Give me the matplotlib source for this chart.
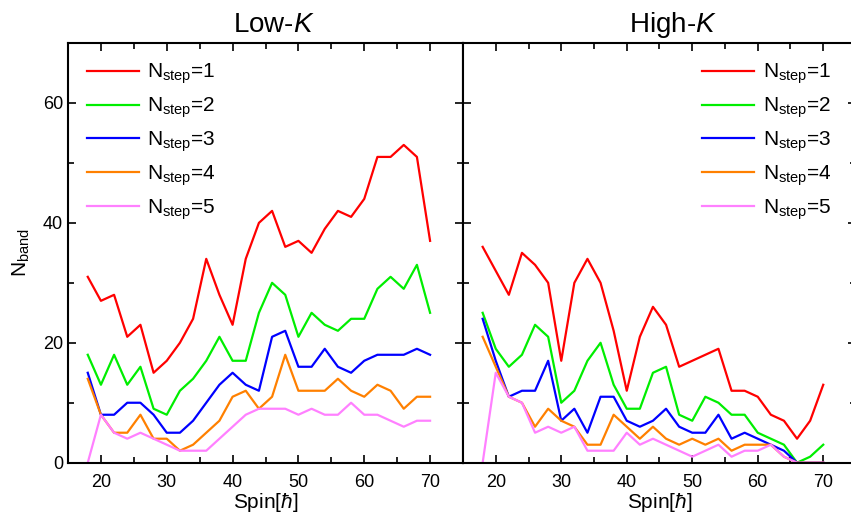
import matplotlib
matplotlib.use("Agg")
import matplotlib.pyplot as plt
from matplotlib.ticker import MultipleLocator

plt.rcParams['font.family'] = ['Liberation Sans', 'DejaVu Sans']
plt.rcParams['mathtext.fontset'] = 'custom'
plt.rcParams['mathtext.rm'] = 'Liberation Sans'
plt.rcParams['mathtext.it'] = 'Liberation Sans:italic'

# spin values (hbar)
spin = [18, 20, 22, 24, 26, 28, 30, 32, 34, 36, 38, 40, 42, 44,
        46, 48, 50, 52, 54, 56, 58, 60, 62, 64, 66, 68, 70]

# Low-K panel
low_1 = [31, 27, 28, 21, 23, 15, 17, 20, 24, 34, 28, 23, 34, 40, 42, 36, 37, 35, 39, 42, 41, 44, 51, 51, 53, 51, 37]
low_2 = [18, 13, 18, 13, 16, 9, 8, 12, 14, 17, 21, 17, 17, 25, 30, 28, 21, 25, 23, 22, 24, 24, 29, 31, 29, 33, 25]
low_3 = [15, 8, 8, 10, 10, 8, 5, 5, 7, 10, 13, 15, 13, 12, 21, 22, 16, 16, 19, 16, 15, 17, 18, 18, 18, 19, 18]
low_4 = [14, 8, 5, 5, 8, 4, 4, 2, 3, 5, 7, 11, 12, 9, 11, 18, 12, 12, 12, 14, 12, 11, 13, 12, 9, 11, 11]
low_5 = [0, 8, 5, 4, 5, 4, 3, 2, 2, 2, 4, 6, 8, 9, 9, 9, 8, 9, 8, 8, 10, 8, 8, 7, 6, 7, 7]

# High-K panel
high_1 = [36, 32, 28, 35, 33, 30, 17, 30, 34, 30, 22, 12, 21, 26, 23, 16, 17, 18, 19, 12, 12, 11, 8, 7, 4, 7, 13]
high_2 = [25, 19, 16, 18, 23, 21, 10, 12, 17, 20, 13, 9, 9, 15, 16, 8, 7, 11, 10, 8, 8, 5, 4, 3, 0, 1, 3]
high_3 = [24, 17, 11, 12, 12, 17, 7, 9, 5, 11, 11, 7, 6, 7, 9, 6, 5, 5, 8, 4, 5, 4, 3, 2, 0, 0, 0]
high_4 = [21, 16, 11, 10, 6, 9, 7, 6, 3, 3, 8, 6, 4, 6, 4, 3, 4, 3, 4, 2, 3, 3, 3, 1, 0, 0, 0]
high_5 = [0, 15, 11, 10, 5, 6, 5, 6, 2, 2, 2, 5, 3, 4, 3, 2, 1, 2, 3, 1, 2, 2, 3, 1, 0, 0, 0]

labels = [r'N$_{\rm step}$=1', r'N$_{\rm step}$=2', r'N$_{\rm step}$=3',
          r'N$_{\rm step}$=4', r'N$_{\rm step}$=5']
colors = ['#ff0000', '#00ee00', '#0000ff', '#ff8000', '#ff80ff']

fig = plt.figure(figsize=(8.51, 5.19), dpi=100)
ax1 = fig.add_axes([68 / 851, 56.3 / 519, 395 / 851, 419.7 / 519])
ax2 = fig.add_axes([463 / 851, 56.3 / 519, 393 / 851, 419.7 / 519])

def style_axes(ax, show_y):
    ax.set_xlim(15, 75)
    ax.set_ylim(0, 70)
    ax.xaxis.set_major_locator(MultipleLocator(10))
    ax.xaxis.set_minor_locator(MultipleLocator(5))
    ax.yaxis.set_major_locator(MultipleLocator(20))
    ax.yaxis.set_minor_locator(MultipleLocator(10))
    ax.tick_params(which='both', direction='in', top=True, right=True,
                   width=1.2, labelsize=13)
    ax.tick_params(which='major', length=6)
    ax.tick_params(which='minor', length=4)
    ax.tick_params(axis='x', pad=8)
    if not show_y:
        ax.tick_params(axis='y', labelleft=False)
    for s in ax.spines.values():
        s.set_linewidth(1.5)
    ax.set_xlabel(r'Spin[$\hbar$]', fontsize=15, labelpad=0)

for ax, series in [(ax1, [low_1, low_2, low_3, low_4, low_5]),
                   (ax2, [high_1, high_2, high_3, high_4, high_5])]:
    for ys, c, lab in zip(series, colors, labels):
        ax.plot(spin, ys, color=c, lw=1.6, label=lab)

style_axes(ax1, True)
style_axes(ax2, False)

ax1.set_ylabel(r'N$_{\rm band}$', fontsize=15, labelpad=8)
ax1.set_title(r'Low-$K$', fontsize=20, x=0.52, pad=8)
ax2.set_title(r'High-$K$', fontsize=20, x=0.535, pad=8)

leg_kw = dict(frameon=False, fontsize=15, handlelength=2.5, handletextpad=0.4,
              labelspacing=0.45, borderaxespad=0.5)
ax1.legend(loc='upper left', **leg_kw)
ax2.legend(loc='upper right', bbox_to_anchor=(0.985, 1.0), **leg_kw)

fig.savefig('out.png', dpi=100)
